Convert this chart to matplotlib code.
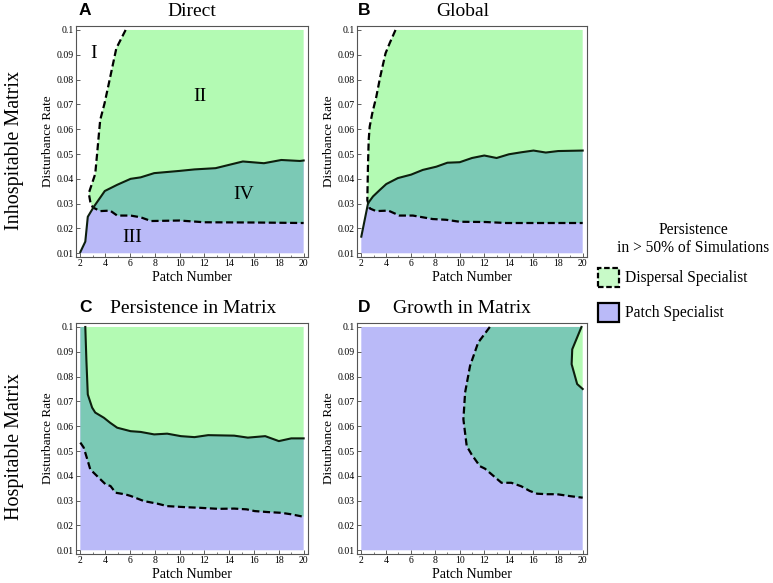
import matplotlib
matplotlib.use("Agg")
import matplotlib.pyplot as plt
from matplotlib.patches import Polygon, Rectangle

plt.rcParams['font.family'] = ['Liberation Serif', 'DejaVu Serif']

GREEN = '#B3FAB3'
TEAL = '#7BC9B5'
PURPLE = '#BABAF8'
LEG_GREEN = '#C8FAC8'

# ---------------- data: boundary curves (patch number, disturbance rate) -------------
# Panel A: Direct
disp_A_x = [5.65, 5.1, 4.9, 4.3, 3.95, 3.6, 3.5, 3.35, 3.2, 2.86, 2.68, 2.8, 3.0,
            3.6, 4.4, 4.97, 6.05, 6.86, 7.7, 10, 12, 16, 20]
disp_A_y = [0.1, 0.0946, 0.0926, 0.0785, 0.0704, 0.0637, 0.0583, 0.050, 0.042, 0.0369,
            0.0342, 0.0308, 0.0285, 0.027, 0.0272, 0.0252, 0.0252, 0.0245, 0.023,
            0.0232, 0.0225, 0.0224, 0.0222]
patch_A_x = [2, 2.4, 2.6, 3.08, 3.97, 4.97, 6.05, 6.86, 7.95, 10, 11.2, 12.9, 15.1,
             16.8, 18.2, 19.7, 20]
patch_A_y = [0.0105, 0.0147, 0.0247, 0.0287, 0.0351, 0.0376, 0.040, 0.0406, 0.0423,
             0.0432, 0.0438, 0.0443, 0.047, 0.0463, 0.0476, 0.0472, 0.0474]

# Panel B: Global
disp_B_x = [4.78, 4.3, 3.97, 3.54, 3.22, 2.89, 2.68, 2.6, 2.54, 2.49, 2.68, 3.2, 4.2,
            5.1, 6.2, 7.0, 7.8, 8.9, 10, 12.1, 13.8, 17.3, 20]
disp_B_y = [0.1, 0.0946, 0.0906, 0.0812, 0.0731, 0.0664, 0.061, 0.0556, 0.0449, 0.0314,
            0.0281, 0.027, 0.0272, 0.0252, 0.0252, 0.0245, 0.0238, 0.0235, 0.0227,
            0.0226, 0.0222, 0.0222, 0.0222]
patch_B_x = [2, 2.55, 2.95, 3.5, 4.03, 4.97, 6.05, 7, 8.1, 9, 10, 11, 12, 13, 14, 15,
             16, 17, 18, 20]
patch_B_y = [0.0167, 0.0302, 0.0329, 0.0355, 0.0379, 0.0403, 0.0417, 0.0436, 0.0449,
             0.0465, 0.0467, 0.0484, 0.0494, 0.0484, 0.0499, 0.0507, 0.0514, 0.0506,
             0.0512, 0.0514]

# Panel C: Persistence in Matrix
disp_C_x = [2, 2.27, 2.6, 2.8, 3.35, 4.03, 4.43, 4.84, 5.65, 6.05, 7.14, 8.2, 9, 10.4,
            11.7, 13.1, 14.4, 15.4, 16.05, 17.1, 18.2, 19, 19.8, 20]
disp_C_y = [0.0534, 0.0514, 0.046, 0.0426, 0.0399, 0.0366, 0.0359, 0.0332, 0.0325,
            0.0319, 0.0298, 0.0288, 0.0278, 0.0274, 0.0271, 0.0267, 0.0268, 0.0265,
            0.0258, 0.0254, 0.0251, 0.0245, 0.0237, 0.0236]
patch_C_x = [2.4, 2.49, 2.6, 2.95, 3.2, 3.9, 4.4, 4.97, 6.05, 6.86, 7.95, 9, 10.1,
             11.2, 12.3, 14.4, 15.5, 16.9, 18, 19, 20]
patch_C_y = [0.1, 0.0863, 0.0728, 0.0675, 0.0655, 0.0634, 0.0614, 0.0594, 0.058,
             0.0577, 0.0567, 0.057, 0.056, 0.0556, 0.0564, 0.0562, 0.0554, 0.056,
             0.054, 0.0551, 0.0551]

# Panel D: Growth in Matrix
disp_D_x = [12.45, 11.5, 10.84, 10.44, 10.3, 10.57, 10.97, 11.64, 12.05, 13.4, 14.2,
            15.0, 15.7, 16.3, 17.1, 17.9, 19, 20]
disp_D_y = [0.1, 0.0937, 0.0843, 0.0736, 0.0628, 0.052, 0.0486, 0.0439, 0.0429,
            0.0372, 0.0372, 0.0358, 0.0339, 0.0328, 0.0326, 0.0326, 0.0318, 0.0312]
patch_D_x = [19.9, 19.15, 19.1, 19.55, 20]
patch_D_y = [0.1, 0.091, 0.085, 0.077, 0.075]

y_ticks = [0.01, 0.02, 0.03, 0.04, 0.05, 0.06, 0.07, 0.08, 0.09, 0.1]
y_tick_labels = ['0.01', '0.02', '0.03', '0.04', '0.05', '0.06', '0.07', '0.08', '0.09', '0.1']
x_ticks = [2, 4, 6, 8, 10, 12, 14, 16, 18, 20]

# region corners to close each persistence region (box edges)
disp_close = {'A': [(20, 0.1)], 'B': [(20, 0.1)], 'C': [(20, 0.1), (2, 0.1)], 'D': [(20, 0.1)]}
patch_close = {'A': [(20, 0.01), (2, 0.01)], 'B': [(20, 0.01), (2, 0.01)],
               'C': [(20, 0.01), (2, 0.01), (2, 0.1)], 'D': [(20, 0.01), (2, 0.01), (2, 0.1)]}

panels = {
    'A': ('Direct', disp_A_x, disp_A_y, patch_A_x, patch_A_y),
    'B': ('Global', disp_B_x, disp_B_y, patch_B_x, patch_B_y),
    'C': ('Persistence in Matrix', disp_C_x, disp_C_y, patch_C_x, patch_C_y),
    'D': ('Growth in Matrix', disp_D_x, disp_D_y, patch_D_x, patch_D_y),
}

W, H = 773, 583
fig = plt.figure(figsize=(W / 100, H / 100), dpi=100)

boxes = {'A': (76, 26, 308, 257), 'B': (357, 26, 587, 257),
         'C': (76, 323, 308, 554), 'D': (357, 323, 587, 554)}
title_pos = {'A': (79, 192), 'B': (358, 463), 'C': (79, 193), 'D': (358, 462)}
title_y = {'A': 16, 'B': 16, 'C': 313, 'D': 313}

for key, (title, dx, dy, px, py) in panels.items():
    l, t, r, b = boxes[key]
    ax = fig.add_axes([l / W, 1 - b / H, (r - l) / W, (b - t) / H])
    ax.set_xlim(1.65, 20.35)
    ax.set_ylim(0.0085, 0.1016)

    disp_poly = list(zip(dx, dy)) + disp_close[key]
    patch_poly = list(zip(px, py)) + patch_close[key]
    pd_ = Polygon(disp_poly, closed=True, fc=GREEN, ec='none', zorder=1)
    ax.add_patch(pd_)
    pp = Polygon(patch_poly, closed=True, fc=PURPLE, ec='none', zorder=1)
    ax.add_patch(pp)
    pb = Polygon(patch_poly, closed=True, fc=TEAL, ec='none', zorder=2)
    ax.add_patch(pb)
    pb.set_clip_path(pd_)

    ax.plot(dx, dy, color='black', lw=1.6, ls=(0, (3.2, 1.6)), zorder=4,
            solid_capstyle='butt', dash_capstyle='butt')
    ax.plot(px, py, color='#0d1f0d', lw=1.5, zorder=4)

    ax.set_xticks(x_ticks)
    ax.set_xticks(range(3, 20, 2), minor=True)
    ax.set_yticks(y_ticks)
    ax.set_yticklabels(y_tick_labels)
    ax.tick_params(axis='both', which='major', direction='in', length=3, width=0.6,
                   labelsize=7, pad=1.5, color='#444444')
    ax.tick_params(axis='both', which='minor', direction='in', length=1.5, width=0.5,
                   color='#444444')
    ax.tick_params(top=False, right=False, which='both')
    for s in ax.spines.values():
        s.set_color('#555555')
        s.set_linewidth(0.8)
    ax.set_xlabel('Patch Number', fontsize=10, labelpad=2)
    ax.set_ylabel('Disturbance Rate', fontsize=9.5, labelpad=2)

    lx, tcx = title_pos[key]
    fig.text(lx / W, 1 - (title_y[key] - 1) / H, key, fontsize=12.5, fontweight='bold',
             family=['Liberation Sans', 'DejaVu Sans'], ha='left', va='baseline')
    fig.text(tcx / W, 1 - title_y[key] / H, title, fontsize=14, ha='center', va='baseline')

    if key == 'A':
        ax.text(3.03, 0.0907, 'I', fontsize=14, ha='center', va='center', zorder=5)
        ax.text(11.65, 0.0731, 'II', fontsize=14, ha='center', va='center', zorder=5)
        ax.text(6.14, 0.0162, 'III', fontsize=14, ha='center', va='center', zorder=5)
        ax.text(15.2, 0.0335, 'IV', fontsize=14, ha='center', va='center', zorder=5)

# row labels
fig.text(15 / W, 1 - 150 / H, 'Inhospitable Matrix', rotation=90, fontsize=14.5,
         ha='center', va='center')
fig.text(15 / W, 1 - 447 / H, 'Hospitable Matrix', rotation=90, fontsize=14.5,
         ha='center', va='center')

# legend
fig.text(693 / W, 1 - 230 / H, 'Persistence', fontsize=11.2, ha='center', va='center')
fig.text(693 / W, 1 - 248 / H, 'in > 50% of Simulations', fontsize=11.2, ha='center',
         va='center')
fig.patches.append(Rectangle((598 / W, 1 - 287 / H), 21 / W, 19 / H,
                             transform=fig.transFigure, fc=LEG_GREEN, ec='black',
                             lw=1.6, ls=(0, (2.5, 1.2))))
fig.patches.append(Rectangle((598 / W, 1 - 322 / H), 21 / W, 19 / H,
                             transform=fig.transFigure, fc=PURPLE, ec='black', lw=1.6))
fig.text(625 / W, 1 - 278 / H, 'Dispersal Specialist', fontsize=11.2, ha='left',
         va='center')
fig.text(625 / W, 1 - 313 / H, 'Patch Specialist', fontsize=11.2, ha='left', va='center')

fig.savefig('out.png', dpi=100)
